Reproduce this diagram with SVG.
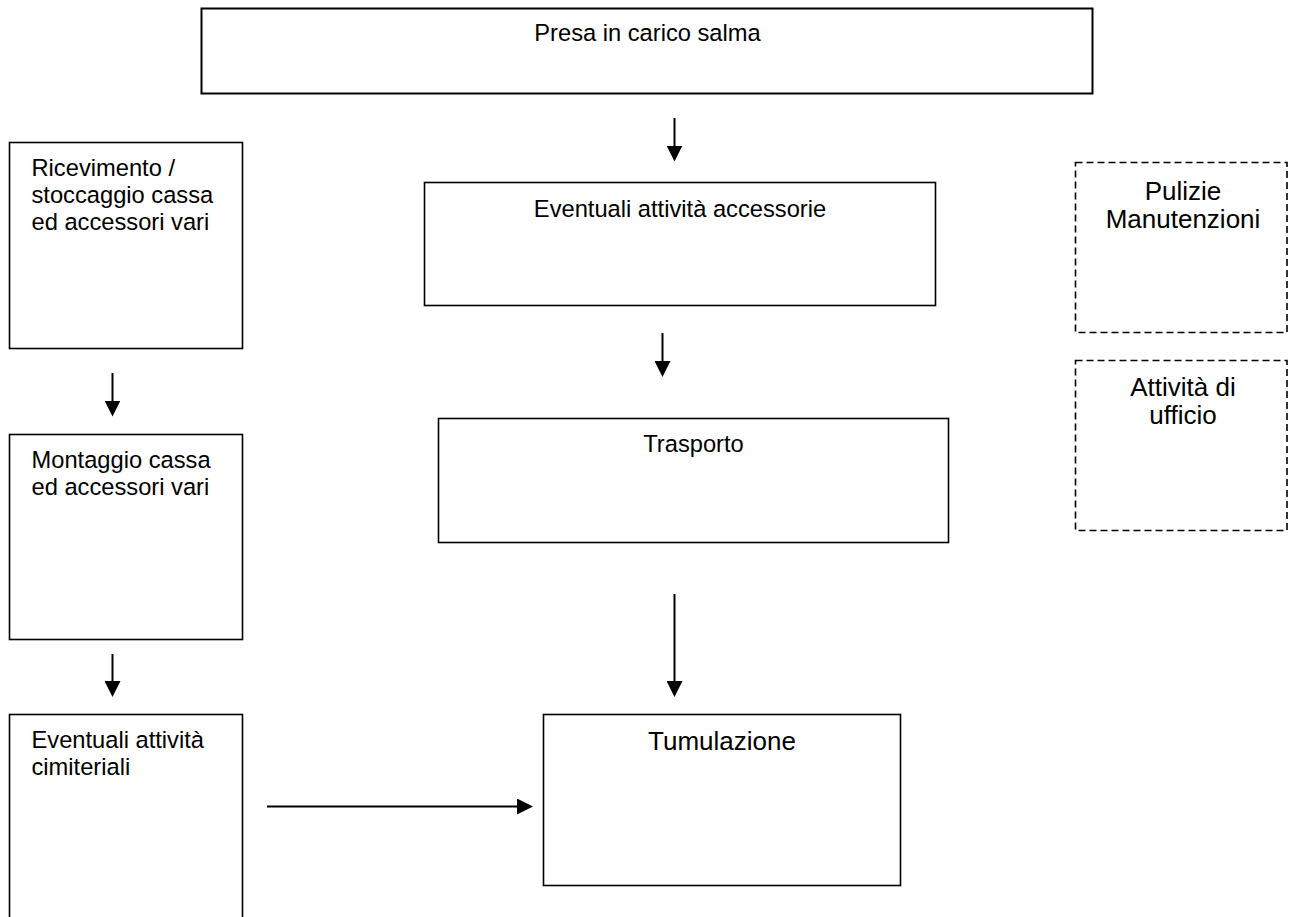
<svg xmlns="http://www.w3.org/2000/svg" width="1290" height="917" viewBox="0 0 1290 917">
  <style>
    .box { fill: #ffffff; stroke: #000000; stroke-width: 1.6; }
    .dash { fill: #ffffff; stroke: #000000; stroke-width: 1.6; stroke-dasharray: 7 4; }
    .t { font-family: "Liberation Sans", Arial, sans-serif; font-size: 23.7px; fill: #000000; }
    .tl { font-family: "Liberation Sans", Arial, sans-serif; font-size: 26px; fill: #000000; }
    .mid { text-anchor: middle; }
    .conn line { stroke: #000000; stroke-width: 2; marker-end: url(#ah); }
  </style>
  <defs>
    <marker id="ah" viewBox="0 0 16 16" refX="6" refY="8" markerWidth="16" markerHeight="16" markerUnits="userSpaceOnUse" orient="auto">
      <path d="M0,0 L16,8 L0,16 z" fill="#000000"/>
    </marker>
  </defs>

  <rect width="1290" height="917" fill="#ffffff"/>

  <g id="presa">
    <rect class="box" x="201.5" y="8.5" width="891" height="85" style="stroke-width:2"/>
    <text class="t mid" x="647.5" y="40.5">Presa in carico salma</text>
  </g>

  <g id="accessorie">
    <rect class="box" x="424.5" y="182.5" width="511" height="123"/>
    <text class="t mid" x="680" y="216.5">Eventuali attività accessorie</text>
  </g>

  <g id="trasporto">
    <rect class="box" x="438.5" y="418.5" width="510" height="124"/>
    <text class="t mid" x="693.5" y="451.5">Trasporto</text>
  </g>

  <g id="tumulazione">
    <rect class="box" x="543.5" y="714.5" width="357" height="171"/>
    <text class="tl mid" x="722" y="750">Tumulazione</text>
  </g>

  <g id="ricevimento">
    <rect class="box" x="9.5" y="142.5" width="233" height="206"/>
    <text class="t" x="31.5" y="176">Ricevimento /</text>
    <text class="t" x="31.5" y="203">stoccaggio cassa</text>
    <text class="t" x="31.5" y="230">ed accessori vari</text>
  </g>

  <g id="montaggio">
    <rect class="box" x="9.5" y="434.5" width="233" height="205"/>
    <text class="t" x="31.5" y="468">Montaggio cassa</text>
    <text class="t" x="31.5" y="495">ed accessori vari</text>
  </g>

  <g id="cimiteriali">
    <rect class="box" x="9.5" y="714.5" width="233" height="220"/>
    <text class="t" x="31.5" y="748">Eventuali attività</text>
    <text class="t" x="31.5" y="775">cimiteriali</text>
  </g>

  <g id="pulizie">
    <rect class="dash" x="1075.5" y="162.5" width="211.5" height="170"/>
    <text class="tl mid" x="1183" y="200">Pulizie</text>
    <text class="tl mid" x="1183" y="228">Manutenzioni</text>
  </g>

  <g id="ufficio">
    <rect class="dash" x="1075.5" y="360.5" width="211.5" height="170"/>
    <text class="tl mid" x="1183" y="396">Attività di</text>
    <text class="tl mid" x="1183" y="424">ufficio</text>
  </g>

  <g id="connectors" class="conn">
    <line x1="674.5" y1="118" x2="674.5" y2="151.5"/>
    <line x1="662.5" y1="333" x2="662.5" y2="367"/>
    <line x1="674.5" y1="594" x2="674.5" y2="687"/>
    <line x1="112.5" y1="373" x2="112.5" y2="406.5"/>
    <line x1="112.5" y1="654" x2="112.5" y2="687"/>
    <line x1="267" y1="806.5" x2="523" y2="806.5"/>
  </g>
</svg>
